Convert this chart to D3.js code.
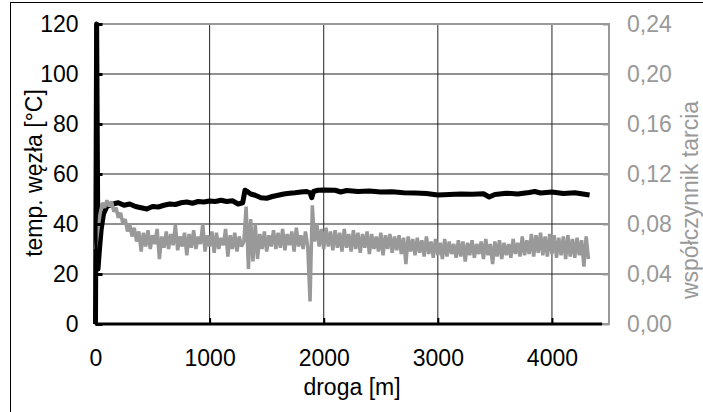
<!DOCTYPE html>
<html>
<head>
<meta charset="utf-8">
<script src="https://cdn.jsdelivr.net/npm/d3@7"></script>
<style>
  body { margin: 0; background: #fff; }
  text { font-family: "Liberation Sans", Arial, sans-serif; }
</style>
</head>
<body>
<svg id="chart" width="703" height="412"></svg>
<script>
// Axis ticks
var distTicks = [0, 1000, 2000, 3000, 4000];
var tempTicks = [0, 20, 40, 60, 80, 100, 120];
var frictionTicks = [0, 0.04, 0.08, 0.12, 0.16, 0.20, 0.24];

// Temperature of the node [°C] vs distance [m]
var tempPoints = [
  [0, 0], [10, 120], [22, 22], [35, 30], [50, 38], [70, 44], [100, 47],
  [150, 48], [200, 48.5], [250, 47.5], [300, 48], [350, 47], [400, 46.5],
  [450, 46], [500, 47], [550, 46.8], [600, 47.5], [650, 48], [700, 47.8],
  [750, 48.5], [800, 48.8], [850, 48.3], [900, 49], [950, 48.8], [1000, 49.2],
  [1050, 49], [1100, 49.5], [1150, 49], [1200, 49.3], [1250, 48], [1290, 48.5],
  [1310, 53.5], [1330, 53], [1360, 52], [1400, 51.5], [1450, 50.5], [1500, 50.3],
  [1550, 51], [1600, 51.5], [1650, 52], [1700, 52.3], [1750, 52.5], [1800, 52.8],
  [1850, 53], [1880, 52.5], [1895, 50.5], [1910, 53], [1950, 53.5], [2000, 53.6],
  [2100, 53.5], [2150, 52.8], [2200, 53.4], [2300, 53], [2400, 53.2], [2500, 52.8],
  [2600, 52.9], [2700, 52.5], [2800, 52.4], [2900, 52.2], [3000, 51.6], [3100, 51.8],
  [3200, 52], [3300, 51.9], [3400, 52.1], [3450, 50.8], [3500, 51.8], [3600, 52.3],
  [3700, 52], [3800, 52.6], [3850, 53], [3900, 52.4], [4000, 52.8], [4100, 52.2],
  [4200, 52.5], [4300, 51.8], [4330, 51.6]
];

// Friction coefficient in thousandths, one sample every 20 m (rows of 200 m)
var frictionStep = 20;
var frictionMilli = [
  60, 75, 88, 97, 93, 99, 94, 98, 90, 93,
  85, 89, 80, 84, 74, 80, 70, 77, 66, 74,
  58, 73, 62, 75, 60, 71, 64, 76, 52, 70,
  61, 74, 60, 72, 63, 79, 59, 70, 62, 73,
  55, 72, 61, 75, 60, 70, 64, 80, 58, 71,
  62, 74, 57, 73, 60, 69, 63, 76, 54, 71,
  60, 73, 58, 70, 62, 66, 94, 44, 84, 50,
  80, 52, 72, 60, 74, 58, 71, 62, 75, 60,
  73, 61, 76, 59, 72, 63, 74, 58, 77, 62,
  71, 60, 74, 62, 18, 95, 66, 80, 62, 76,
  60, 77, 62, 74, 59, 75, 61, 73, 58, 76,
  61, 72, 58, 75, 60, 73, 57, 72, 61, 74,
  56, 72, 60, 70, 58, 73, 55, 71, 60, 72,
  57, 70, 59, 71, 56, 69, 48, 70, 58, 68,
  55, 69, 57, 67, 54, 70, 56, 66, 53, 68,
  55, 65, 52, 68, 54, 66, 56, 64, 53, 67,
  54, 66, 50, 65, 55, 67, 53, 64, 56, 66,
  52, 68, 55, 64, 48, 66, 54, 67, 52, 65,
  55, 64, 53, 68, 56, 65, 54, 70, 55, 67,
  56, 72, 54, 71, 57, 73, 55, 70, 54, 72,
  56, 71, 53, 69, 55, 70, 52, 71, 54, 68,
  53, 69, 55, 67, 46, 70, 52
];


var svg = d3.select("#chart");
var grayCol = "#999999";
var fontSize = 23;

// Scales
var x = d3.scaleLinear().domain([0, 4500]).range([95.5, 609]);
var yT = d3.scaleLinear().domain([0, 120]).range([324, 24]);
var yF = d3.scaleLinear().domain([0, 0.24]).range([324, 24]);

// Outer border
svg.append("rect")
  .attr("x", 10.5).attr("y", 2.5)
  .attr("width", 760).attr("height", 500)
  .attr("fill", "none").attr("stroke", "#000").attr("stroke-width", 1);

// Grid
svg.append("g").selectAll("line")
  .data(tempTicks.slice(1, -1)).enter()
  .append("line")
  .attr("x1", x(0)).attr("x2", x(4500))
  .attr("y1", function (d) { return yT(d); })
  .attr("y2", function (d) { return yT(d); })
  .attr("stroke", "#222").attr("stroke-width", 1);

svg.append("g").selectAll("line")
  .data(distTicks.slice(1)).enter()
  .append("line")
  .attr("x1", function (d) { return x(d); })
  .attr("x2", function (d) { return x(d); })
  .attr("y1", yT(120)).attr("y2", yT(0))
  .attr("stroke", "#222").attr("stroke-width", 1);

// Gray frame of the secondary plot (top, right, bottom)
svg.append("path")
  .attr("d", "M" + x(0) + "," + yT(120) + "H" + x(4500) + "V" + yT(0) + "H" + x(0))
  .attr("fill", "none").attr("stroke", grayCol).attr("stroke-width", 2);

// Temperature line
var tempLine = d3.line()
  .x(function (d) { return x(d[0]); })
  .y(function (d) { return yT(d[1]); });

svg.append("path")
  .datum(tempPoints)
  .attr("d", tempLine)
  .attr("fill", "none")
  .attr("stroke", "#000")
  .attr("stroke-width", 5)
  .attr("stroke-linejoin", "round");

// Friction line (drawn over temperature), thick so the zigzag reads as a band
var frictionLine = d3.line()
  .x(function (d, i) { return x(i * frictionStep); })
  .y(function (d) { return yF(d / 1000); });

svg.append("path")
  .datum(frictionMilli)
  .attr("d", frictionLine)
  .attr("fill", "none")
  .attr("stroke", grayCol)
  .attr("stroke-width", 3.5)
  .attr("stroke-linejoin", "bevel");

// Left axis (temperature)
var leftAxis = svg.append("g")
  .attr("transform", "translate(" + x(0) + ",0)")
  .call(d3.axisLeft(yT).tickValues(tempTicks).tickSizeInner(-7).tickSizeOuter(0).tickPadding(17));
leftAxis.select(".domain").attr("stroke-width", 3);
leftAxis.selectAll(".tick line").attr("stroke-width", 3);
leftAxis.selectAll("text").attr("font-size", fontSize).attr("fill", "#000");

// Bottom axis (distance)
var bottomAxis = svg.append("g")
  .attr("transform", "translate(0," + yT(0) + ")")
  .call(d3.axisBottom(x).tickValues(distTicks).tickFormat(d3.format("d"))
    .tickSizeInner(-6).tickSizeOuter(0).tickPadding(26));
bottomAxis.select(".domain").remove();
bottomAxis.append("line")
  .attr("x1", x(0)).attr("x2", x(4440))
  .attr("stroke", "#000").attr("stroke-width", 3);
bottomAxis.selectAll(".tick line").attr("stroke-width", 2);
bottomAxis.selectAll("text").attr("font-size", fontSize).attr("fill", "#000");

// Right axis (friction coefficient)
var rightAxis = svg.append("g")
  .attr("transform", "translate(" + x(4500) + ",0)")
  .call(d3.axisRight(yF).tickValues(frictionTicks).tickSizeInner(-6).tickSizeOuter(0).tickPadding(18)
    .tickFormat(function (d) { return d3.format(".2f")(d).replace(".", ","); }));
rightAxis.select(".domain").remove();
rightAxis.selectAll(".tick line").attr("stroke", grayCol).attr("stroke-width", 2);
rightAxis.selectAll("text").attr("font-size", fontSize).attr("fill", grayCol);

// Axis titles
svg.append("text")
  .attr("x", 352).attr("y", 395)
  .attr("text-anchor", "middle")
  .attr("font-size", fontSize)
  .text("droga [m]");

svg.append("text")
  .attr("transform", "translate(42,173) rotate(-90)")
  .attr("text-anchor", "middle")
  .attr("font-size", fontSize)
  .text("temp. węzła [°C]");

svg.append("text")
  .attr("transform", "translate(698,200) rotate(-90)")
  .attr("text-anchor", "middle")
  .attr("font-size", fontSize)
  .attr("fill", grayCol)
  .text("współczynnik tarcia");
</script>
</body>
</html>
